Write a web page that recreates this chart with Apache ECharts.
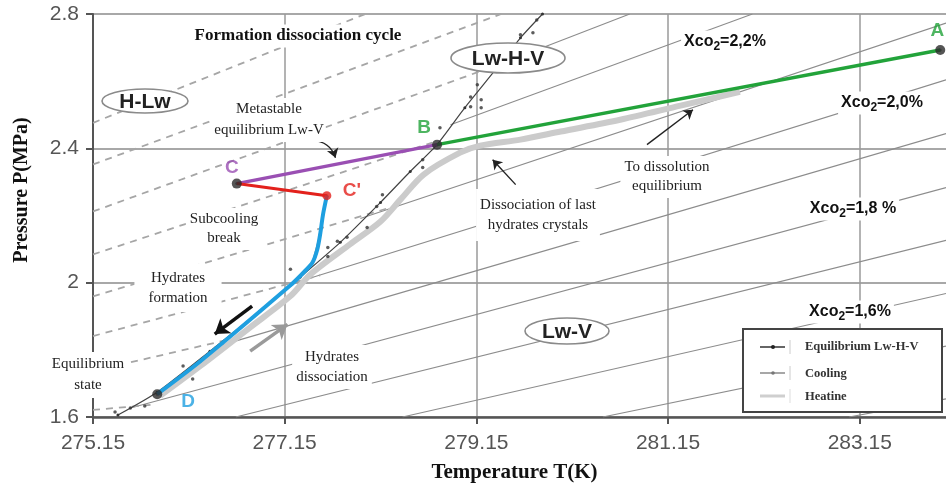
<!DOCTYPE html>
<html><head><meta charset="utf-8">
<script src="https://cdn.jsdelivr.net/npm/echarts@6/dist/echarts.min.js"></script>
<style>html,body{margin:0;padding:0;background:#fff}#c{width:946px;height:488px}</style>
</head><body><div id="c"></div>
<script>
// ---- axis ticks ----
const xTicks = [275.15, 277.15, 279.15, 281.15, 283.15];
const yTicks = [1.6, 2.0, 2.4, 2.8];

// ---- cycle points A, B, C, C', D ----
const pointNames = ['A', 'B', 'C', "C'", 'D'];
const pointT = [283.99, 278.74, 276.65, 277.59, 275.82];
const pointP = [2.693, 2.411, 2.295, 2.259, 1.668];

// ---- coloured path segments ----
const greenT = [278.74, 283.99];
const greenP = [2.411, 2.693];
const purpleT = [276.65, 278.74];
const purpleP = [2.295, 2.411];
const redT = [276.65, 277.59];
const redP = [2.295, 2.259];
const blueT = [277.59, 277.55, 277.52, 277.49, 277.44, 277.36, 277.21, 276.27, 275.82];
const blueP = [2.259, 2.203, 2.144, 2.099, 2.060, 2.034, 1.992, 1.766, 1.668];

// ---- equilibrium Lw-H-V curve and measured points ----
const eqT = [275.41, 275.82, 276.37, 276.89, 277.31, 277.73, 278.15, 278.46, 278.74, 279.03, 279.35, 279.61, 279.84];
const eqP = [1.606, 1.674, 1.796, 1.915, 2.016, 2.120, 2.239, 2.331, 2.411, 2.521, 2.634, 2.729, 2.800];
const eqDotT = [275.38, 275.54, 275.69, 276.09, 276.19, 277.21, 277.60, 277.60, 277.70, 277.80, 278.01, 278.11, 278.17, 278.59, 278.59, 278.77, 279.09, 279.09, 279.20, 279.20, 279.16, 279.61, 279.74, 279.78];
const eqDotP = [1.615, 1.627, 1.633, 1.752, 1.713, 2.040, 2.105, 2.078, 2.123, 2.135, 2.164, 2.227, 2.262, 2.366, 2.343, 2.461, 2.553, 2.524, 2.545, 2.521, 2.589, 2.738, 2.744, 2.782];

// ---- cooling and heating runs ----
const coolT = [283.99, 278.74, 276.65, 277.59, 277.52, 277.44, 277.21, 276.27, 275.82];
const coolP = [2.693, 2.411, 2.295, 2.259, 2.144, 2.060, 1.992, 1.766, 1.668];
const heatT = [275.85, 276.27, 276.79, 277.21, 277.42, 277.83, 278.15, 278.36, 278.60, 278.98, 279.19, 279.61, 280.03, 280.65, 281.28, 281.90];
const heatP = [1.663, 1.752, 1.867, 1.960, 2.025, 2.114, 2.182, 2.248, 2.322, 2.387, 2.408, 2.426, 2.450, 2.485, 2.527, 2.568];

// ---- isopleths (solid, Lw-V) : start T,P -> end T,P ----
const isoT1 = [279.40, 278.88, 277.94, 277.21, 276.42, 275.54, 276.64, 278.38, 280.47, 283.04];
const isoP1 = [2.651, 2.470, 2.191, 1.995, 1.808, 1.627, 1.600, 1.600, 1.600, 1.600];
const isoT2 = [280.75, 282.03, 284.05, 284.05, 284.05, 284.05, 284.05, 284.05, 284.05, 284.05];
const isoP2 = [2.800, 2.800, 2.773, 2.604, 2.444, 2.283, 2.126, 1.968, 1.811, 1.654];

// ---- dashed lines (H-Lw region) ----
const dashT1 = [275.15, 275.15, 275.15, 275.15, 275.15, 275.15, 275.15, 275.15];
const dashP1 = [2.476, 2.352, 2.212, 2.084, 1.959, 1.841, 1.737, 1.621];
const dashT2 = [277.99, 279.41, 279.35, 278.69, 278.36, 277.52, 276.68, 275.75];
const dashP2 = [2.800, 2.800, 2.646, 2.417, 2.233, 2.022, 1.838, 1.636];

// ---- annotation arrows (start -> end) ----
const arrowFormT = [276.81, 276.42];
const arrowFormP = [1.930, 1.847];
const arrowDissT = [276.79, 277.18];
const arrowDissP = [1.796, 1.876];
const arrowMetaT = [277.44, 277.68];
const arrowMetaP = [2.423, 2.372];
const arrowLastT = [279.56, 279.32];
const arrowLastP = [2.292, 2.366];
const arrowDissolT = [280.93, 281.41];
const arrowDissolP = [2.411, 2.515];

const pairs = (T, P) => T.map((t, i) => [t, P[i]]);
const segs = (T1, P1, T2, P2) => T1.map((t, i) => ({ coords: [[t, P1[i]], [T2[i], P2[i]]] }));

const labelOffsets = [[-3, -19], [-13, -17], [-5, -16], [25, -5], [31, 8]];
const labelColors = ['#22a33a', '#22a33a', '#9a4fb3', '#e3211c', '#1e9fe0'];
const dotColors = ['#2b2b2b', '#2b2b2b', '#2b2b2b', '#e3211c', '#2b2b2b'];

const SERIF = '"Liberation Serif", "Times New Roman", serif';
const SANS = '"Liberation Sans", Arial, sans-serif';

function note(x, y, text, lh, pad) {
  return { type: 'text', x: x, y: y, z: 100,
    style: { text: text, font: '15px ' + SERIF, fill: '#222', align: 'center', verticalAlign: 'middle',
      lineHeight: lh || 20, backgroundColor: '#fff', padding: pad || [2, 4] } };
}
function xco(x, y, b) {
  return { type: 'text', x: x, y: y, z: 100,
    style: { text: '{a|Xco}{s|2}{a|' + b + '}', align: 'center', verticalAlign: 'middle',
      backgroundColor: '#fff', padding: [1, 3],
      rich: { a: { font: 'bold 16px ' + SANS, fill: '#111' }, s: { font: 'bold 12px ' + SANS, fill: '#111', padding: [9, 0, 0, 0] } } } };
}
function oval(cx, cy, rx, ry, text) {
  return [
    { type: 'ellipse', z: 100, shape: { cx: cx, cy: cy, rx: rx, ry: ry }, style: { fill: '#fff', stroke: '#8a8a8a', lineWidth: 1.6 } },
    { type: 'text', z: 101, x: cx, y: cy + 1, style: { text: text, font: 'bold 21px ' + SANS, fill: '#222', align: 'center', verticalAlign: 'middle' } }
  ];
}

const graphics = [
  { type: 'text', x: 298, y: 36, z: 100, style: { text: 'Formation dissociation cycle', font: 'bold 17px ' + SERIF, fill: '#111', align: 'center', verticalAlign: 'middle', backgroundColor: '#fff', padding: [3, 6] } },
  note(269, 120, 'Metastable\nequilibrium Lw-V', 21, [2, 2, 0, 2]),
  note(224, 229, 'Subcooling\nbreak', 19),
  note(178, 288, 'Hydrates\nformation', 20, [4, 14]),
  note(88, 375, 'Equilibrium\nstate', 21),
  note(332, 367, 'Hydrates\ndissociation', 20),
  note(538, 215, 'Dissociation of last\nhydrates crystals', 20, [6, 4]),
  note(667, 177, 'To dissolution\nequilibrium', 19),
  xco(725, 42, '=2,2%'),
  xco(882, 103, '=2,0%'),
  xco(853, 209, '=1,8 %'),
  xco(850, 312, '=1,6%'),
  ...oval(145, 101, 43, 12, 'H-Lw'),
  ...oval(508, 58, 57, 15, 'Lw-H-V'),
  ...oval(567, 331, 42, 13, 'Lw-V'),
  { type: 'text', x: 22, y: 190, rotation: Math.PI / 2, z: 100, style: { text: 'Pressure P(MPa)', font: 'bold 20px ' + SERIF, fill: '#111', align: 'center', verticalAlign: 'middle' } },
  // legend box
  { type: 'rect', z: 110, shape: { x: 743, y: 329, width: 199, height: 83 }, style: { fill: '#fff', stroke: '#444', lineWidth: 2 } },
  { type: 'line', z: 111, shape: { x1: 760, y1: 347, x2: 785, y2: 347 }, style: { stroke: '#333', lineWidth: 1.5 } },
  { type: 'circle', z: 112, shape: { cx: 773, cy: 347, r: 2 }, style: { fill: '#222' } },
  { type: 'line', z: 111, shape: { x1: 760, y1: 373, x2: 785, y2: 373 }, style: { stroke: '#8a8a8a', lineWidth: 1.5 } },
  { type: 'circle', z: 112, shape: { cx: 773, cy: 373, r: 1.8 }, style: { fill: '#777' } },
  { type: 'line', z: 111, shape: { x1: 760, y1: 396, x2: 785, y2: 396 }, style: { stroke: '#cfcfcf', lineWidth: 3 } },
  { type: 'line', z: 111, shape: { x1: 790, y1: 340, x2: 790, y2: 354 }, style: { stroke: '#ccc', lineWidth: 1 } },
  { type: 'line', z: 111, shape: { x1: 790, y1: 366, x2: 790, y2: 380 }, style: { stroke: '#ccc', lineWidth: 1 } },
  { type: 'line', z: 111, shape: { x1: 790, y1: 389, x2: 790, y2: 403 }, style: { stroke: '#ddd', lineWidth: 1 } },
  { type: 'text', z: 112, x: 805, y: 347, style: { text: 'Equilibrium Lw-H-V', font: 'bold 12.5px ' + SERIF, fill: '#333', align: 'left', verticalAlign: 'middle' } },
  { type: 'text', z: 112, x: 805, y: 374, style: { text: 'Cooling', font: 'bold 12.5px ' + SERIF, fill: '#333', align: 'left', verticalAlign: 'middle' } },
  { type: 'text', z: 112, x: 805, y: 397, style: { text: 'Heatine', font: 'bold 12.5px ' + SERIF, fill: '#333', align: 'left', verticalAlign: 'middle' } }
];

const chart = echarts.init(document.getElementById('c'));
chart.setOption({
  animation: false,
  backgroundColor: '#fff',
  grid: { left: 93, right: 0, top: 14, bottom: 70 },
  xAxis: {
    type: 'value', min: 275.15, max: 284.05, interval: 2,
    axisLine: { show: true, lineStyle: { color: '#555', width: 2.5 } },
    axisTick: { show: true, length: 7, customValues: xTicks, lineStyle: { color: '#555', width: 2 } },
    axisLabel: { customValues: xTicks, margin: 16, color: '#555', fontFamily: SANS, fontSize: 21, formatter: v => v.toFixed(2) },
    splitLine: { show: true, lineStyle: { color: '#9a9a9a', width: 1.5 } },
    name: 'Temperature T(K)', nameLocation: 'middle', nameGap: 45,
    nameTextStyle: { fontFamily: SERIF, fontWeight: 'bold', fontSize: 21, color: '#111', padding: [0, 10, 0, 0] }
  },
  yAxis: {
    type: 'value', min: 1.6, max: 2.8, interval: 0.4,
    axisLine: { show: true, lineStyle: { color: '#555', width: 2 } },
    axisTick: { show: true, length: 7, lineStyle: { color: '#555', width: 2 } },
    axisLabel: { margin: 14, color: '#555', fontFamily: SANS, fontSize: 21, formatter: v => String(+v.toFixed(1)) },
    splitLine: { show: true, lineStyle: { color: '#a8a8a8', width: 2 } }
  },
  series: [
    { type: 'lines', coordinateSystem: 'cartesian2d', z: 1, silent: true,
      lineStyle: { color: '#8c8c8c', width: 1.1, opacity: 1 }, data: segs(isoT1, isoP1, isoT2, isoP2) },
    { type: 'lines', coordinateSystem: 'cartesian2d', z: 1, silent: true,
      lineStyle: { color: '#a6a6a6', width: 1.8, type: [7, 6], opacity: 1 }, data: segs(dashT1, dashP1, dashT2, dashP2) },
    { name: 'Heating', type: 'line', z: 2, data: pairs(heatT, heatP), smooth: 0.3, symbol: 'none',
      lineStyle: { color: '#cbcbcb', width: 6 } },
    { name: 'Cooling', type: 'line', z: 2, data: pairs(coolT, coolP), symbol: 'circle', symbolSize: 3,
      itemStyle: { color: '#777' }, lineStyle: { color: '#8a8a8a', width: 1.5 } },
    { name: 'Equilibrium Lw-H-V', type: 'line', z: 3, data: pairs(eqT, eqP), smooth: 0.2, symbol: 'circle', symbolSize: 3,
      itemStyle: { color: '#333' }, lineStyle: { color: '#444', width: 1.2 } },
    { type: 'scatter', z: 3, data: pairs(eqDotT, eqDotP), symbolSize: 3.5, itemStyle: { color: '#333' } },
    { type: 'line', z: 4, data: pairs(greenT, greenP), symbol: 'none', lineStyle: { color: '#22a33a', width: 3.5 } },
    { type: 'line', z: 4, data: pairs(purpleT, purpleP), symbol: 'none', lineStyle: { color: '#9a4fb3', width: 3.5 } },
    { type: 'line', z: 4, data: pairs(redT, redP), symbol: 'none', lineStyle: { color: '#e3211c', width: 3 } },
    { type: 'line', z: 4, data: pairs(blueT, blueP), smooth: 0.25, symbol: 'none', lineStyle: { color: '#1e9fe0', width: 4 } },
    { type: 'lines', coordinateSystem: 'cartesian2d', z: 5, silent: true, symbol: ['none', 'arrow'], symbolSize: 14,
      lineStyle: { color: '#111', width: 3.5, opacity: 1 }, itemStyle: { color: '#111' },
      data: [{ coords: pairs(arrowFormT, arrowFormP) }] },
    { type: 'lines', coordinateSystem: 'cartesian2d', z: 5, silent: true, symbol: ['none', 'arrow'], symbolSize: 14,
      lineStyle: { color: '#9a9a9a', width: 3.5, opacity: 1 }, itemStyle: { color: '#9a9a9a' },
      data: [{ coords: pairs(arrowDissT, arrowDissP) }] },
    { type: 'lines', coordinateSystem: 'cartesian2d', z: 5, silent: true, symbol: ['none', 'arrow'], symbolSize: 9,
      lineStyle: { color: '#222', width: 1.4, opacity: 1 }, itemStyle: { color: '#222' },
      data: [
        { coords: pairs(arrowMetaT, arrowMetaP), lineStyle: { curveness: 0.35 } },
        { coords: pairs(arrowLastT, arrowLastP) },
        { coords: pairs(arrowDissolT, arrowDissolP) }
      ] },
    { type: 'scatter', z: 6, symbolSize: 10,
      data: pointNames.map((n, i) => ({
        value: [pointT[i], pointP[i]],
        itemStyle: { color: dotColors[i] },
        symbolSize: i === 3 ? 9 : 10,
        label: { show: true, position: 'inside', formatter: n, offset: labelOffsets[i], color: labelColors[i],
          fontFamily: SANS, fontWeight: 'bold', fontSize: 19 }
      })) }
  ],
  graphic: graphics
});
</script>
</body></html>
